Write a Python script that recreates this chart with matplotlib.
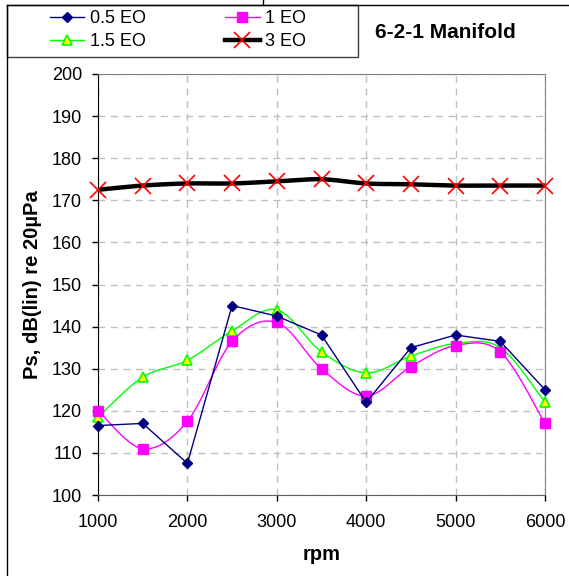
import numpy as np
import matplotlib
matplotlib.use("Agg")
import matplotlib.pyplot as plt
from matplotlib.lines import Line2D
from matplotlib.patches import Rectangle

plt.rcParams['font.family'] = ['Liberation Sans', 'DejaVu Sans']

rpm = [1000, 1500, 2000, 2500, 3000, 3500, 4000, 4500, 5000, 5500, 6000]
eo_05 = [116.5, 117.0, 107.5, 145.0, 142.5, 138.0, 122.0, 135.0, 138.0, 136.5, 125.0]
eo_1 = [120.0, 111.0, 117.5, 136.5, 141.0, 130.0, 123.5, 130.5, 135.5, 134.0, 117.0]
eo_15 = [118.5, 128.0, 132.0, 139.0, 144.0, 134.0, 129.0, 133.0, 136.0, 135.0, 122.0]
eo_3 = [172.5, 173.5, 174.0, 174.0, 174.5, 175.0, 174.0, 173.8, 173.5, 173.5, 173.5]

labels = ["0.5 EO", "1 EO", "1.5 EO", "3 EO"]
y_ticks = list(range(100, 201, 10))
x_ticks = [1000, 2000, 3000, 4000, 5000, 6000]


def smooth(xs, ys, n=30):
    """Cubic Bezier smoothing through the points (Catmull-Rom style)."""
    x = np.asarray(xs, float)
    y = np.asarray(ys, float)
    px = np.concatenate([[x[0]], x, [x[-1]]])
    py = np.concatenate([[y[0]], y, [y[-1]]])
    t = np.linspace(0, 1, n)
    outx, outy = [], []
    for i in range(len(x) - 1):
        p0 = np.array([px[i + 1], py[i + 1]])
        p3 = np.array([px[i + 2], py[i + 2]])
        c1 = p0 + (np.array([px[i + 2], py[i + 2]]) - np.array([px[i], py[i]])) / 6
        c2 = p3 - (np.array([px[i + 3], py[i + 3]]) - np.array([px[i + 1], py[i + 1]])) / 6
        b = ((1 - t) ** 3)[:, None] * p0 + (3 * (1 - t) ** 2 * t)[:, None] * c1 \
            + (3 * (1 - t) * t ** 2)[:, None] * c2 + (t ** 3)[:, None] * p3
        outx.extend(b[:, 0]); outy.extend(b[:, 1])
    return outx, outy


fig = plt.figure(figsize=(5.69, 5.76), dpi=100)
W, H = 569, 576
ax = fig.add_axes([98 / W, 1 - 495 / H, 447 / W, 421 / H])

navy = "#000080"
mag = "#FF00FF"
green = "#00FF00"

# 0.5 EO: straight segments
ax.plot(rpm, eo_05, color=navy, lw=1.0, marker="D", ms=5.5, mfc=navy, mec=navy,
        zorder=5, clip_on=False)
# 1 EO: smoothed
sx, sy = smooth(rpm, eo_1)
ax.plot(sx, sy, color=mag, lw=1.0, zorder=4)
ax.plot(rpm, eo_1, ls="none", marker="s", ms=7, mfc=mag, mec=mag, zorder=4, clip_on=False)
# 1.5 EO: smoothed
sx, sy = smooth(rpm, eo_15)
ax.plot(sx, sy, color=green, lw=1.0, zorder=3)
ax.plot(rpm, eo_15, ls="none", marker="^", ms=7, mfc="#FFFF00", mec=green, mew=1.2,
        zorder=3, clip_on=False)
# 3 EO: thick black smoothed line with red crosses
sx, sy = smooth(rpm, eo_3)
ax.plot(sx, sy, color="black", lw=3.2, zorder=6, solid_capstyle="butt")
ax.plot(rpm, eo_3, ls="none", marker="x", ms=12, mec="#FF0000", mew=1.2, zorder=7,
        clip_on=False)

ax.set_xlim(1000, 6000)
ax.set_ylim(100, 200)
ax.set_xticks(x_ticks)
ax.set_yticks(y_ticks)
ax.grid(True, color="#C0C0C0", ls=(0, (5, 4)), lw=1.0)
ax.set_axisbelow(True)

for s in ("top", "right"):
    ax.spines[s].set_color("#808080")
ax.spines["bottom"].set_color("#606060")
ax.spines["left"].set_color("black")
ax.tick_params(axis="both", direction="out", length=4.5, width=1, labelsize=13, colors="black")
ax.tick_params(axis="y", pad=7)
ax.tick_params(axis="x", pad=9)

ax.set_xlabel("rpm", fontsize=14.5, fontweight="bold", labelpad=10)
ax.set_ylabel("Ps, dB(lin) re 20µPa", fontsize=14.5, fontweight="bold", labelpad=7)

# Legend (two rows: 0.5 / 1 on top, 1.5 / 3 below)
handles = [
    Line2D([], [], color=navy, lw=1.0, marker="D", ms=5.5, mfc=navy, mec=navy),
    Line2D([], [], color=mag, lw=1.0, marker="s", ms=7, mfc=mag, mec=mag),
    Line2D([], [], color=green, lw=1.0, marker="^", ms=7, mfc="#FFFF00", mec=green, mew=1.2),
    Line2D([], [], color="black", lw=3.2, marker="x", ms=12, mec="#FF0000", mew=1.2),
]
order = [0, 2, 1, 3]
fig.legend([handles[i] for i in order], [labels[i] for i in order], ncol=2, loc="center",
           bbox_to_anchor=(178 / W, 1 - 30 / H),
           frameon=False, fontsize=13, handlelength=1.9, handletextpad=0.3,
           columnspacing=4.4, labelspacing=0.35, borderpad=0)
fig.add_artist(Rectangle((7 / W, 1 - 57 / H), 351 / W, 52 / H, transform=fig.transFigure,
                         fill=False, ec="#404040", lw=1.0))

fig.text(445 / W, 1 - 33 / H, "6-2-1 Manifold", fontsize=15, fontweight="bold",
         ha="center", va="center")

# Outer chart frame edges
fig.add_artist(Line2D([7 / W, 1], [1 - 5 / H, 1 - 5 / H], transform=fig.transFigure,
                      color="black", lw=1.0))
fig.add_artist(Line2D([7 / W, 7 / W], [0, 1 - 5 / H], transform=fig.transFigure,
                      color="black", lw=1.0))
fig.add_artist(Line2D([263 / W, 263 / W], [1 - 5 / H, 1], transform=fig.transFigure,
                      color="black", lw=1.0))

fig.savefig("out.png", dpi=100)
